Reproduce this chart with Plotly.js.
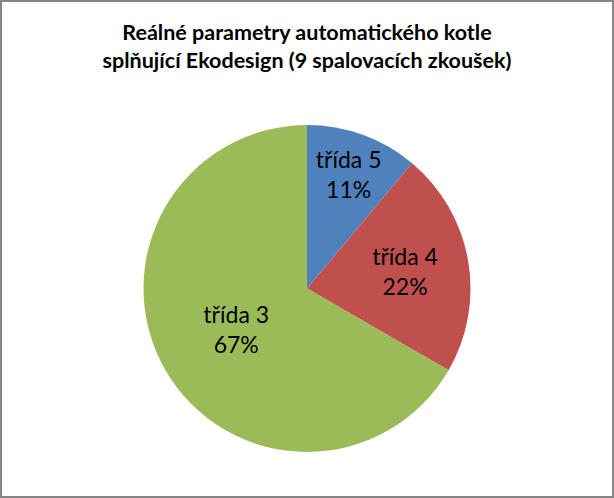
<!DOCTYPE html>
<html>
<head>
<meta charset="utf-8">
<script src="https://cdn.plot.ly/plotly-3.0.1.min.js"></script>
<style>html,body{margin:0;padding:0;background:#fff;}</style>
</head>
<body>
<div id="chart" style="width:614px;height:498px;"></div>
<script>
const categories = ["třída 5", "třída 4", "třída 3"];
const testCounts = [1, 2, 6];
const sliceColors = ["#4F81BD", "#C0504D", "#9BBB59"];
const chartTitle = "Reálné parametry automatického kotle<br>splňující Ekodesign (9 spalovacích zkoušek)";

const W = 614, H = 498;
const trace = {
  type: "pie",
  labels: categories,
  values: testCounts,
  sort: false,
  direction: "clockwise",
  rotation: 0,
  marker: {colors: sliceColors, line: {width: 0}},
  texttemplate: "%{label}<br>%{percent:.0%}",
  textposition: "inside",
  insidetextorientation: "horizontal",
  textfont: {family: "Lato, sans-serif", size: 23, color: "#000"},
  hoverinfo: "none",
  showlegend: false,
  domain: {x: [143 / W, 471 / W], y: [1 - 452 / H, 1 - 125 / H]}
};
const layout = {
  width: W, height: H,
  margin: {l: 0, r: 0, t: 0, b: 0},
  paper_bgcolor: "#fff",
  title: {
    text: chartTitle,
    font: {family: "Lato, sans-serif", size: 21.5, color: "#000", weight: "bold"},
    x: 0.5, xanchor: "center",
    y: 1 - 40 / H, yanchor: "top"
  },
  shapes: [{
    type: "rect", xref: "paper", yref: "paper",
    x0: 0, x1: 1, y0: 0, y1: 1,
    line: {color: "#868686", width: 4}
  }],
  uniformtext: {mode: "show", minsize: 23}
};
Plotly.newPlot("chart", [trace], layout, {displayModeBar: false, staticPlot: true});
</script>
</body>
</html>
